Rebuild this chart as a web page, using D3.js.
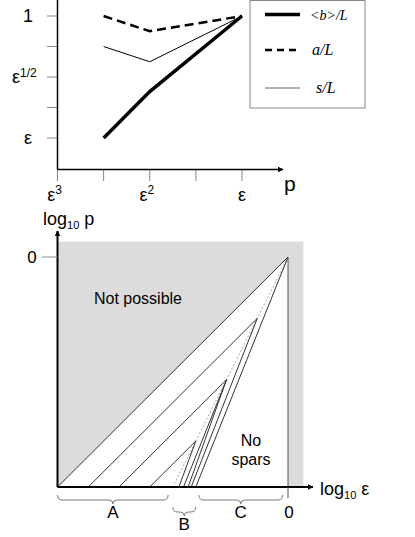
<!DOCTYPE html>
<html>
<head>
<meta charset="utf-8">
<script src="https://cdn.jsdelivr.net/npm/d3@7"></script>
<style>
  body { margin: 0; background: #fff; }
  svg { display: block; font-family: "Liberation Sans", Arial, sans-serif; }
</style>
</head>
<body>
<svg id="chart" width="415" height="537"></svg>
<script>
// ---- top chart data (exponents of epsilon) ----
const pExp = [2.5, 2, 1];            // p = eps^k
const bL = [1, 0.62, 0];             // <b>/L = eps^k
const aL = [0, 0.125, 0];
const sL = [0.25, 0.375, 0];
const yTicks = [0, 0.25, 0.5, 0.75, 1];
const yTickLabels = {0: '1', 0.5: 'ε', 1: 'ε'};
const xTicks = [3, 2.5, 2, 1.5, 1];
const xTickLabels = {3: 'ε', 2: 'ε', 1: 'ε'};
const xTickSup = {3: '3', 2: '2', 1: ''};

// ---- bottom chart data (log10 eps, log10 p) ----
const diagonal = [[-15, -15], [0, 0]];
const apexes = [[-2, -4], [-4, -8], [-6, -12]];
const apexFoot = [-13, -11, -9];
const steepLines = [
  [[0, 0], -6.0],
  [[-2, -4], -6.3],
  [[-4, -8], -6.5],
  [[-4, -8], -6.8],
  [[-6, -12], -7.1]
];
const dottedLine = [[0, 0], [-7.5, -15]];
const braces = [
  {name: 'A', from: -15, to: -7.8, level: 0},
  {name: 'B', from: -7.5, to: -6.0, level: 1},
  {name: 'C', from: -5.8, to: -0.35, level: 0}
];

const svg = d3.select('#chart');

svg.append('defs').append('marker')
  .attr('id', 'arrow')
  .attr('viewBox', '0 0 10 10')
  .attr('refX', 9).attr('refY', 5)
  .attr('markerWidth', 6).attr('markerHeight', 6)
  .attr('markerUnits', 'userSpaceOnUse')
  .attr('orient', 'auto')
  .append('path').attr('d', 'M0,0 L10,5 L0,10 z').attr('fill', '#000');

// ================= TOP CHART =================
const x1 = d3.scaleLinear().domain([3, 1]).range([57.5, 242]);
const y1 = d3.scaleLinear().domain([0, 1]).range([16, 138]);
const topG = svg.append('g');

// ticks
topG.selectAll('.yt').data(yTicks).join('line')
  .attr('x1', 47).attr('x2', 57.5)
  .attr('y1', d => y1(d)).attr('y2', d => y1(d))
  .attr('stroke', '#888').attr('stroke-width', 1);
topG.selectAll('.xt').data(xTicks).join('line')
  .attr('x1', d => x1(d)).attr('x2', d => x1(d))
  .attr('y1', 169.5).attr('y2', 181)
  .attr('stroke', '#888').attr('stroke-width', 1);

// axes
topG.append('line').attr('x1', 57.5).attr('x2', 57.5).attr('y1', 0).attr('y2', 169.5)
  .attr('stroke', '#000').attr('stroke-width', 1.5);
topG.append('line').attr('x1', 57.5).attr('x2', 283).attr('y1', 169.5).attr('y2', 169.5)
  .attr('stroke', '#000').attr('stroke-width', 1.5).attr('marker-end', 'url(#arrow)');

// y tick labels
Object.keys(yTickLabels).forEach(k => {
  const v = +k;
  const t = topG.append('text').attr('y', y1(v) + 6).attr('font-size', 18);
  if (v === 0) {
    t.attr('x', 28).attr('text-anchor', 'middle').text('1');
  } else if (v === 0.5) {
    t.attr('x', 12).text('ε');
    t.append('tspan').attr('font-size', 12).attr('dy', -6).text('1/2');
  } else {
    t.attr('x', 28).attr('text-anchor', 'middle').text('ε');
  }
});
// x tick labels
Object.keys(xTickLabels).forEach(k => {
  const v = +k;
  const t = topG.append('text').attr('x', x1(v) - (xTickSup[v] ? 3 : 0)).attr('y', 201)
    .attr('font-size', 18).attr('text-anchor', 'middle').text(xTickLabels[v]);
  if (xTickSup[v]) t.append('tspan').attr('font-size', 12).attr('dy', -7).text(xTickSup[v]);
});
topG.append('text').attr('x', 284).attr('y', 191).attr('font-size', 21).text('p');

// series
const line1 = d3.line().x((d, i) => x1(pExp[i])).y(d => y1(d));
topG.append('path').attr('d', line1(sL)).attr('fill', 'none')
  .attr('stroke', '#000').attr('stroke-width', 1);
topG.append('path').attr('d', line1(aL)).attr('fill', 'none')
  .attr('stroke', '#000').attr('stroke-width', 2.5).attr('stroke-dasharray', '9,5');
topG.append('path').attr('d', line1(bL)).attr('fill', 'none')
  .attr('stroke', '#000').attr('stroke-width', 3.5);

// legend
const lg = topG.append('g');
lg.append('rect').attr('x', 250).attr('y', 0.5).attr('width', 115).attr('height', 107.5)
  .attr('fill', '#fff').attr('stroke', '#888').attr('stroke-width', 1);
const legendItems = [
  {label: '<b>/L', y: 14.5, w: 3.5, dash: null, color: '#000', tx: 310, fs: 14},
  {label: 'a/L', y: 50, w: 2.5, dash: '7,5', color: '#000', tx: 312, fs: 16},
  {label: 's/L', y: 88, w: 1, dash: null, color: '#666', tx: 316, fs: 16}
];
legendItems.forEach(it => {
  lg.append('line').attr('x1', 265).attr('x2', 300).attr('y1', it.y).attr('y2', it.y)
    .attr('stroke', it.color).attr('stroke-width', it.w).attr('stroke-dasharray', it.dash);
  lg.append('text').attr('x', it.tx).attr('y', it.y + 5)
    .attr('font-family', '"Liberation Serif", "Times New Roman", serif')
    .attr('font-style', 'italic').attr('font-size', it.fs).text(it.label);
});

// ================= BOTTOM CHART =================
const x2 = d3.scaleLinear().domain([-15, 0]).range([57.5, 288]);
const y2 = d3.scaleLinear().domain([-15, 0]).range([487, 257]);
const bot = svg.append('g');

// grey "not possible" area and white admissible triangle
bot.append('rect').attr('x', x2(-15)).attr('y', y2(1))
  .attr('width', x2(1) - x2(-15)).attr('height', y2(-15) - y2(1))
  .attr('fill', '#dcdcdc');
bot.append('path')
  .attr('d', d3.line().x(d => x2(d[0])).y(d => y2(d[1]))([[-15, -15], [0, 0], [0, -15]]) + 'Z')
  .attr('fill', '#fff');

const seg = (a, b) => d3.line().x(d => x2(d[0])).y(d => y2(d[1]))([a, b]);

// vertical line eps = 1
bot.append('path').attr('d', seg([0, 0], [0, -15])).attr('stroke', '#555').attr('stroke-width', 1);
// dotted p = eps^2
bot.append('path').attr('d', seg(dottedLine[0], dottedLine[1]))
  .attr('stroke', '#aaa').attr('stroke-width', 1).attr('stroke-dasharray', '2,2');
// diagonal
bot.append('path').attr('d', seg(diagonal[0], diagonal[1])).attr('stroke', '#333').attr('stroke-width', 1);
// parallel lines to apexes
apexes.forEach((a, i) => {
  bot.append('path').attr('d', seg([apexFoot[i], -15], a)).attr('stroke', '#333').attr('stroke-width', 1);
});
// steep lines
steepLines.forEach(s => {
  bot.append('path').attr('d', seg(s[0], [s[1], -15])).attr('stroke', '#333').attr('stroke-width', 1);
});

// axes
bot.append('line').attr('x1', 57.5).attr('x2', 57.5).attr('y1', 487).attr('y2', 231)
  .attr('stroke', '#000').attr('stroke-width', 2).attr('marker-end', 'url(#arrow)');
bot.append('line').attr('x1', 57.5).attr('x2', 313).attr('y1', 487).attr('y2', 487)
  .attr('stroke', '#000').attr('stroke-width', 2).attr('marker-end', 'url(#arrow)');
// ticks
bot.append('line').attr('x1', 42).attr('x2', 57.5).attr('y1', y2(0)).attr('y2', y2(0))
  .attr('stroke', '#888');
bot.append('line').attr('x1', x2(0)).attr('x2', x2(0)).attr('y1', 487).attr('y2', 498)
  .attr('stroke', '#555');
bot.append('text').attr('x', 32).attr('y', y2(0) + 6).attr('font-size', 17)
  .attr('text-anchor', 'middle').text('0');
bot.append('text').attr('x', x2(0) + 1).attr('y', 518).attr('font-size', 17)
  .attr('text-anchor', 'middle').text('0');

// axis labels
const yl = bot.append('text').attr('x', 43).attr('y', 225).attr('font-size', 18).text('log');
yl.append('tspan').attr('font-size', 11).attr('dy', 4).text('10');
yl.append('tspan').attr('dy', -4).text(' p');
const xl = bot.append('text').attr('x', 320).attr('y', 495).attr('font-size', 18).text('log');
xl.append('tspan').attr('font-size', 11).attr('dy', 4).text('10');
xl.append('tspan').attr('dy', -4).text(' ε');

// region labels
bot.append('text').attr('x', 138).attr('y', 304).attr('font-size', 16)
  .attr('text-anchor', 'middle').text('Not possible');
bot.append('text').attr('x', 251).attr('y', 446).attr('font-size', 16)
  .attr('text-anchor', 'middle').text('No');
bot.append('text').attr('x', 251).attr('y', 465).attr('font-size', 16)
  .attr('text-anchor', 'middle').text('spars');

// braces
braces.forEach(b => {
  const xa = x2(b.from), xb = x2(b.to), xm = (xa + xb) / 2;
  const y0 = b.level ? 507 : 495, h = 5;
  const d = `M${xa},${y0} Q${xa},${y0 + h} ${xa + 5},${y0 + h} L${xm - 4},${y0 + h} Q${xm},${y0 + h} ${xm},${y0 + h + 4}` +
            ` Q${xm},${y0 + h} ${xm + 4},${y0 + h} L${xb - 5},${y0 + h} Q${xb},${y0 + h} ${xb},${y0}`;
  bot.append('path').attr('d', d).attr('fill', 'none').attr('stroke', '#777').attr('stroke-width', 1);
  bot.append('text').attr('x', xm).attr('y', y0 + 23).attr('font-size', 17)
    .attr('text-anchor', 'middle').text(b.name);
});
</script>
</body>
</html>
